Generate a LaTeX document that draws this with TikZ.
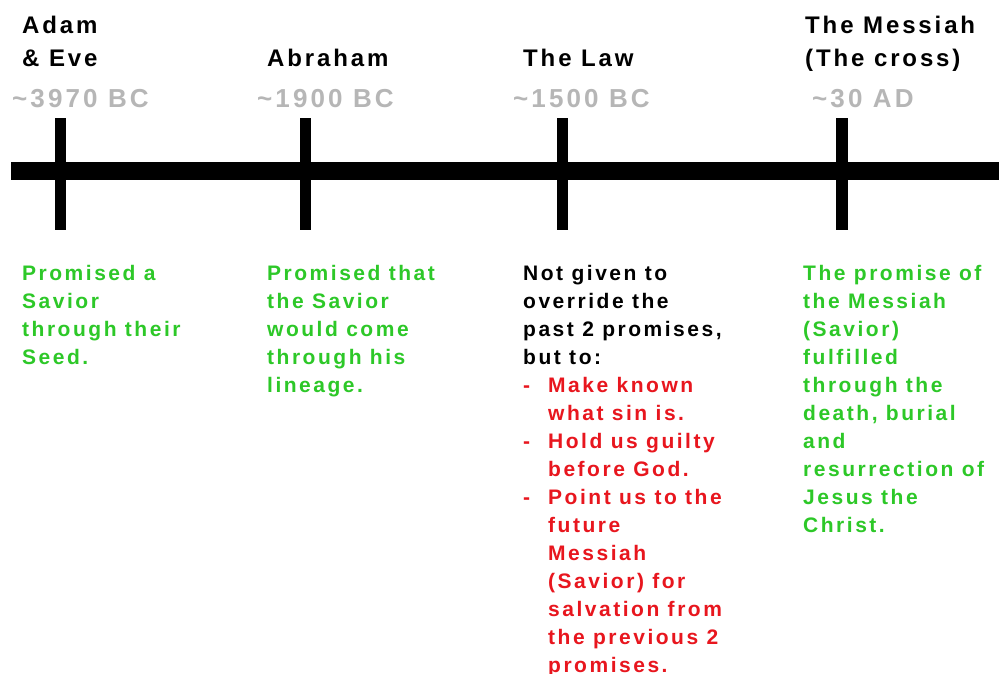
\documentclass[tikz,border=0pt]{standalone}
\usepackage{fontspec}
\newfontfamily\tl{Liberation Sans Bold}[LetterSpace=12]
\definecolor{tlgreen}{RGB}{45,200,40}
\definecolor{tlred}{RGB}{232,22,30}
\definecolor{tlgray}{RGB}{182,182,182}
\begin{document}
\begin{tikzpicture}[x=1pt,y=-1pt,
  titletxt/.style={font=\tl\fontsize{24}{33}\selectfont, anchor=base west, inner sep=0pt, align=left, text=black},
  datetxt/.style={font=\tl\fontsize{26}{33}\selectfont, anchor=base west, inner sep=0pt, text=tlgray},
  bodytxt/.style={font=\tl\fontsize{21}{28}\selectfont, anchor=base west, inner sep=0pt, align=left},
]
\useasboundingbox (0,0) rectangle (999,673);
\fill[white] (0,0) rectangle (999,673);
% timeline
\fill[black] (11,162) rectangle (999,180);
\fill[black] (55,118) rectangle (66,230);
\fill[black] (300,118) rectangle (311,230);
\fill[black] (557,118) rectangle (568,230);
\fill[black] (836,118) rectangle (848,230);
% titles (anchor = baseline of last line)
\node[titletxt] (adam) at (22,66) {Adam\\\& Eve};
\node[titletxt] (abr) at (267,66) {Abraham};
\node[titletxt] (law) at (523,66) {The Law};
\node[titletxt] (mes) at (805,66) {The Messiah\\(The cross)};
% dates
\node[datetxt] (d1) at (12,107) {\textasciitilde3970 BC};
\node[datetxt] (d2) at (257,107) {\textasciitilde1900 BC};
\node[datetxt] (d3) at (513,107) {\textasciitilde1500 BC};
\node[datetxt] (d4) at (812,107) {\textasciitilde30 AD};
% body texts (anchor = baseline of last line; first line at 280)
\node[bodytxt, text=tlgreen] (b1) at (22,364) {Promised a\\Savior\\through their\\Seed.};
\node[bodytxt, text=tlgreen] (b2) at (267,392) {Promised that\\the Savior\\would come\\through his\\lineage.};
\node[bodytxt, text=black] (b3) at (523,672) {Not given to\\override the\\past 2 promises,\\but to:\\
\textcolor{tlred}{\makebox[25pt][l]{-}Make known}\\
\textcolor{tlred}{\hspace*{25pt}what sin is.}\\
\textcolor{tlred}{\makebox[25pt][l]{-}Hold us guilty}\\
\textcolor{tlred}{\hspace*{25pt}before God.}\\
\textcolor{tlred}{\makebox[25pt][l]{-}Point us to the}\\
\textcolor{tlred}{\hspace*{25pt}future}\\
\textcolor{tlred}{\hspace*{25pt}Messiah}\\
\textcolor{tlred}{\hspace*{25pt}(Savior) for}\\
\textcolor{tlred}{\hspace*{25pt}salvation from}\\
\textcolor{tlred}{\hspace*{25pt}the previous 2}\\
\textcolor{tlred}{\hspace*{25pt}promises.}};
\node[bodytxt, text=tlgreen] (b4) at (803,532) {The promise of\\the Messiah\\(Savior)\\fulfilled\\through the\\death, burial\\and\\resurrection of\\Jesus the\\Christ.};
\end{tikzpicture}
\end{document}
